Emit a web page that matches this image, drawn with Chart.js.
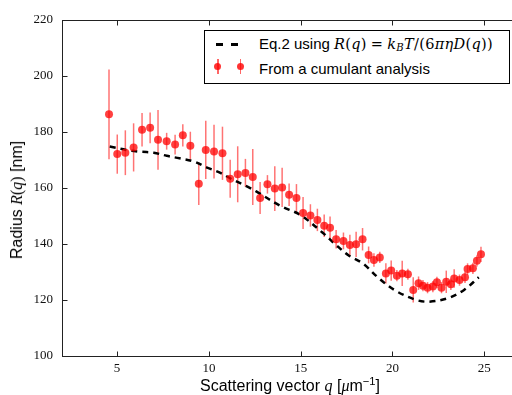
<!DOCTYPE html>
<html>
<head>
<meta charset="utf-8">
<script src="https://cdn.jsdelivr.net/npm/chart.js@4/dist/chart.umd.min.js"></script>
<style>
  html, body { margin: 0; padding: 0; background: #fff; overflow: hidden; width: 512px; height: 395px; }
  #wrap { position: absolute; left: 0; top: 0; width: 530px; height: 395px; }
  .ov { position: absolute; white-space: nowrap; color: #000; font-family: "Liberation Sans", sans-serif; }
  .m { font-family: "Liberation Serif", serif; }
  .m i { font-style: italic; }
  .lm { font-family: "DejaVu Serif", serif; font-size: 14.5px; letter-spacing: 0.3px; }
  .lm i { font-style: italic; }
  .eq { padding: 0 4px; }
  #ytitle { left: 17px; top: 200px; font-size: 16px; transform: translate(-50%, -50%) rotate(-90deg); }
  #xtitle { left: 290px; top: 385px; font-size: 16px; transform: translate(-50%, -50%); }
  #legend { position: absolute; left: 204px; top: 30px; width: 304px; height: 52px; border: 1px solid #000; background: #fff; }
  .row { position: absolute; left: 54px; font-size: 15px; transform: translateY(-50%); white-space: nowrap; }
  .dash { position: absolute; height: 3px; background: #000; }
  .dot { position: absolute; width: 7px; height: 7px; border-radius: 50%; background: rgba(255,0,0,0.8); }
  .bar { position: absolute; width: 1.5px; height: 15px; background: rgba(255,0,0,0.6); }
  sub { font-size: 70%; vertical-align: -0.25em; }
  sup { font-size: 70%; vertical-align: 0.55em; }
</style>
</head>
<body>
<div id="wrap"><canvas id="c" width="530" height="395"></canvas></div>
<div class="ov" id="ytitle">Radius <span class="m"><i>R</i>(<i>q</i>)</span> [nm]</div>
<div class="ov" id="xtitle">Scattering vector <span class="m"><i>q</i></span> [<span class="m"><i>μ</i></span>m<sup>−1</sup>]</div>
<div id="legend">
  <div class="dash" style="left:11px; top:12px; width:7px;"></div>
  <div class="dash" style="left:26px; top:12px; width:7px;"></div>
  <div class="ov row" style="top:13px;">Eq.2 using <span class="lm"><i>R</i>(<i>q</i>)<span class="eq">=</span><i>k</i><sub><i>B</i></sub><i>T</i>/(6<i>πηD</i>(<i>q</i>))</span></div>
  <div class="bar" style="left:12px; top:28px;"></div>
  <div class="dot" style="left:9px; top:32px;"></div>
  <div class="bar" style="left:34.5px; top:28px;"></div>
  <div class="dot" style="left:31.5px; top:32px;"></div>
  <div class="ov row" style="top:37px;">From a cumulant analysis</div>
</div>
<script>
// ---- data ----
const qValues = [4.56,5.01,5.45,5.9,6.36,6.8,7.23,7.7,8.16,8.58,8.99,9.45,9.83,10.28,10.74,11.16,11.57,11.99,12.39,12.79,13.19,13.59,13.99,14.37,14.77,15.13,15.53,15.91,16.28,16.6,16.93,17.33,17.68,18.02,18.37,18.7,18.99,19.31,19.64,19.93,20.24,20.53,20.84,21.13,21.42,21.66,21.91,22.2,22.42,22.67,22.93,23.18,23.36,23.65,23.95,24.09,24.38,24.6,24.82];
const radiusValues = [186.3,172.1,172.6,174.5,180.8,181.5,177.2,176.7,175.5,178.8,175.1,161.5,173.6,173.0,172.4,163.3,164.9,165.4,163.9,156.4,161.3,159.8,160.2,157.6,156.4,151.1,150.2,148.6,146.5,145.8,141.7,141.1,139.6,139.9,141.7,136.1,134.3,135.2,129.5,130.5,128.7,129.5,129.2,123.6,126.0,125.1,124.4,124.8,126.3,124.4,126.5,125.6,127.7,127.1,128.1,131.1,131.3,134.0,136.3];
const radiusErrors = [16,7,8,8.6,6,5.5,10.7,3,3.5,4,5,7.6,10.4,9.6,9.5,6.8,10,5,10,5.7,3.3,8,7,4,5,5.7,4,4,4,4,3.3,3,3.7,4.5,4,3,2.4,2,3.6,3.6,2,4.5,2,4.5,2.4,2,2,2,2,2,4,2,3.3,2,2,2,2,2,2.7];
const modelQ = [4.6,5.5,6.2,7.0,7.7,8.4,9.2,9.9,10.6,11.2,12.1,12.6,13.9,15.0,16.2,16.9,17.6,18.4,19.3,20.2,21.3,22.0,23.0,23.9,24.7];
const modelR = [174.8,173.6,173.0,172.6,171.5,170.6,169.4,167.3,165.5,163.3,160.5,158.7,153.6,150.3,144.0,139.8,136.0,133.0,127.5,123.2,120.0,119.4,120.6,123.6,128.1];
const xTicks = [5,10,15,20,25];
const yTicks = [100,120,140,160,180,200,220];

const points = qValues.map((q,i) => ({x:q, y:radiusValues[i]}));
const model = modelQ.map((q,i) => ({x:q, y:modelR[i]}));

const errorBars = {
  id: 'errorBars',
  beforeDatasetsDraw(chart) {
    const {ctx, scales:{x,y}, chartArea:a} = chart;
    ctx.save();
    ctx.beginPath(); ctx.rect(a.left, a.top, a.right-a.left, a.bottom-a.top); ctx.clip();
    ctx.strokeStyle = 'rgba(255,0,0,0.55)';
    ctx.lineWidth = 1.5;
    qValues.forEach((q,i) => {
      const px = x.getPixelForValue(q);
      ctx.beginPath();
      ctx.moveTo(px, y.getPixelForValue(radiusValues[i]-radiusErrors[i]));
      ctx.lineTo(px, y.getPixelForValue(radiusValues[i]+radiusErrors[i]));
      ctx.stroke();
    });
    ctx.restore();
  }
};

const frame = {
  id: 'frame',
  afterDraw(chart) {
    const {ctx, scales:{x,y}, chartArea:a} = chart;
    ctx.save();
    ctx.strokeStyle = '#222';
    ctx.lineWidth = 1;
    const L = Math.round(a.left)+0.5, R = Math.round(a.right)+0.5, T = Math.round(a.top)+0.5, B = Math.round(a.bottom)+0.5;
    ctx.strokeRect(L, T, R-L, B-T);
    ctx.beginPath();
    xTicks.forEach(v => {
      const px = Math.round(x.getPixelForValue(v))+0.5;
      ctx.moveTo(px, B); ctx.lineTo(px, B-5);
      ctx.moveTo(px, T); ctx.lineTo(px, T+5);
    });
    yTicks.forEach(v => {
      const py = Math.round(y.getPixelForValue(v))+0.5;
      ctx.moveTo(L, py); ctx.lineTo(L+5, py);
      ctx.moveTo(R, py); ctx.lineTo(R-5, py);
    });
    ctx.stroke();
    ctx.restore();
  }
};

new Chart(document.getElementById('c'), {
  type: 'scatter',
  data: {
    datasets: [
      { label: 'model', data: model, showLine: true, borderColor: '#000', borderWidth: 2.5,
        borderDash: [6,5], pointRadius: 0, tension: 0.35, fill: false, order: 1 },
      { label: 'data', data: points, backgroundColor: 'rgba(255,0,0,0.75)', borderWidth: 0,
        pointRadius: 4, pointHoverRadius: 4, order: 0 }
    ]
  },
  options: {
    responsive: false,
    animation: false,
    events: [],
    layout: { padding: { top: 20, right: 9, left: 0, bottom: 0 } },
    plugins: { legend: { display: false }, tooltip: { enabled: false } },
    scales: {
      x: {
        type: 'linear', min: 2, max: 27,
        afterFit: s => { s.height = 39; },
        afterBuildTicks: s => { s.ticks = xTicks.map(v => ({value: v})); },
        grid: { display: false, drawTicks: false },
        border: { display: false },
        ticks: { padding: 5, color: '#111', font: { family: 'Liberation Serif', size: 13 }, maxRotation: 0 }
      },
      y: {
        type: 'linear', min: 100, max: 220,
        afterFit: s => { s.width = 62; },
        afterBuildTicks: s => { s.ticks = yTicks.map(v => ({value: v})); },
        grid: { display: false, drawTicks: false },
        border: { display: false },
        ticks: { padding: 9, color: '#111', font: { family: 'Liberation Serif', size: 13 } }
      }
    }
  },
  plugins: [errorBars, frame]
});
</script>
</body>
</html>
